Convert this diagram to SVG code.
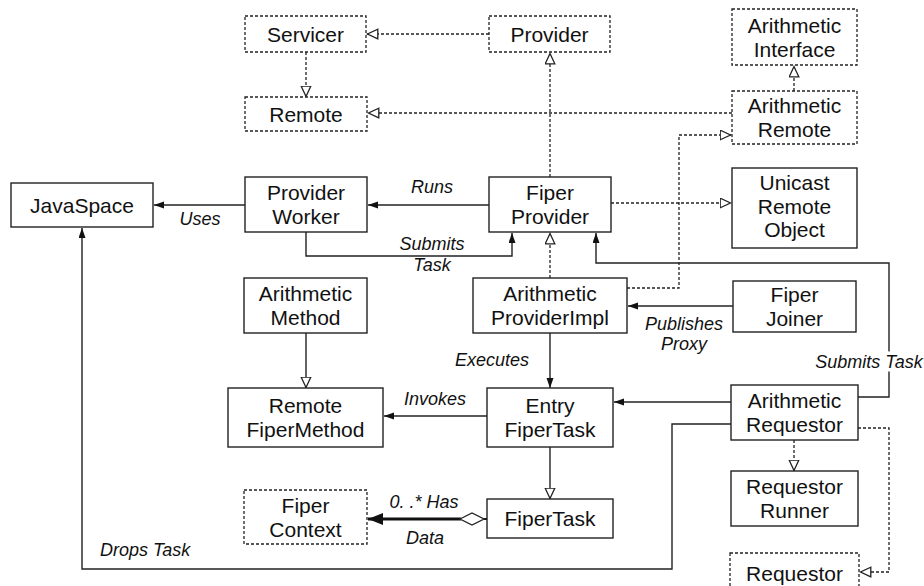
<svg xmlns="http://www.w3.org/2000/svg" width="924" height="586" viewBox="0 0 924 586">
  <style>
    .box { fill: #fff; stroke: #222; stroke-width: 1.4; }
    .iface { fill: #fff; stroke: #222; stroke-width: 1.3; stroke-dasharray: 3 2; }
    .name { font-family: "Liberation Sans", Arial, sans-serif; font-size: 21px; fill: #111; text-anchor: middle; }
    .lbl { font-family: "Liberation Sans", Arial, sans-serif; font-size: 18px; font-style: italic; fill: #111; }
    .knock { stroke: #fff; stroke-width: 7; paint-order: stroke; stroke-linejoin: round; }
    .assoc { fill: none; stroke: #222; stroke-width: 1.4; }
    .real { fill: none; stroke: #222; stroke-width: 1.3; stroke-dasharray: 3 2; }
  </style>
  <defs>
    <marker id="arrow" markerUnits="userSpaceOnUse" markerWidth="11" markerHeight="8" refX="10" refY="3.5" orient="auto">
      <path d="M0,0 L10,3.5 L0,7 z" fill="#111"/>
    </marker>
    <marker id="tri" markerUnits="userSpaceOnUse" markerWidth="13" markerHeight="13" refX="11.5" refY="5.5" orient="auto">
      <path d="M0.7,0.7 L11,5.5 L0.7,10.3 z" fill="#fff" stroke="#222" stroke-width="1.3"/>
    </marker>
    <marker id="boldArrow" markerUnits="userSpaceOnUse" markerWidth="16" markerHeight="13" refX="15" refY="6" orient="auto">
      <path d="M0,0 L15,6 L0,12 z" fill="#111"/>
    </marker>
  </defs>

  <rect width="924" height="586" fill="#fff"/>

  <!-- connectors -->
  <g id="connectors">
    <!-- realization / inheritance (dotted, hollow head) -->
    <path class="real" d="M489,34 H367" marker-end="url(#tri)"/>
    <path class="real" d="M306,52 V97" marker-end="url(#tri)"/>
    <path class="real" d="M550,177 V53" marker-end="url(#tri)"/>
    <path class="real" d="M732,113 H368" marker-end="url(#tri)"/>
    <path class="real" d="M794,91 V66" marker-end="url(#tri)"/>
    <path class="real" d="M611,203 H731" marker-end="url(#tri)"/>
    <path class="real" d="M627,288 H679 V135 H731" marker-end="url(#tri)"/>
    <path class="real" d="M550,278 V233" marker-end="url(#tri)"/>
    <path class="real" d="M794,440 V471" marker-end="url(#tri)"/>
    <path class="real" d="M858,428 H889 V572 H860" marker-end="url(#tri)"/>

    <!-- solid inheritance -->
    <path class="assoc" d="M306,333 V388" marker-end="url(#tri)"/>
    <path class="assoc" d="M550,447 V499" marker-end="url(#tri)"/>

    <!-- associations -->
    <path class="assoc" d="M489,205 H368" marker-end="url(#arrow)"/>
    <path class="assoc" d="M245,205 H154" marker-end="url(#arrow)"/>
    <path class="assoc" d="M306,232 V256 H512 V233" marker-end="url(#arrow)"/>
    <path class="assoc" d="M858,397 H889 V263 H596 V233" marker-end="url(#arrow)"/>
    <path class="assoc" d="M733,306 H628" marker-end="url(#arrow)"/>
    <path class="assoc" d="M550,333 V388" marker-end="url(#arrow)"/>
    <path class="assoc" d="M487,416 H384" marker-end="url(#arrow)"/>
    <path class="assoc" d="M731,402 H614" marker-end="url(#arrow)"/>
    <path class="assoc" d="M731,424 H672 V569 H82 V228" marker-end="url(#arrow)"/>

    <!-- aggregation FiperTask -> Fiper Context -->
    <path d="M461,519 H368" fill="none" stroke="#111" stroke-width="3" marker-end="url(#boldArrow)"/>
    <path d="M484,519 H487" fill="none" stroke="#111" stroke-width="2"/>
    <polygon points="460,519 472,513 484,519 472,525" fill="#fff" stroke="#222" stroke-width="1.3"/>

    <!-- connector labels -->
    <text class="lbl" x="432" y="193" text-anchor="middle">Runs</text>
    <text class="lbl" x="200" y="225" text-anchor="middle">Uses</text>
    <text class="lbl knock" x="432" y="250" text-anchor="middle">Submits</text>
    <text class="lbl" x="432" y="270.5" text-anchor="middle">Task</text>
    <text class="lbl" x="684" y="329.5" text-anchor="middle">Publishes</text>
    <text class="lbl" x="684" y="350" text-anchor="middle">Proxy</text>
    <text class="lbl" x="529" y="366" text-anchor="end">Executes</text>
    <text class="lbl" x="435" y="405" text-anchor="middle">Invokes</text>
    <text class="lbl knock" x="869" y="368" text-anchor="middle">Submits Task</text>
    <text class="lbl" x="424" y="508" text-anchor="middle">0. .* Has</text>
    <text class="lbl" x="425" y="544" text-anchor="middle">Data</text>
    <text class="lbl" x="100" y="556">Drops Task</text>
  </g>

  <!-- interfaces (dotted boxes) -->
  <g id="servicer">
    <rect class="iface" x="245" y="16" width="121" height="36"/>
    <text class="name" x="305.5" y="41.5">Servicer</text>
  </g>
  <g id="provider">
    <rect class="iface" x="489" y="16" width="121" height="36"/>
    <text class="name" x="549.5" y="41.5">Provider</text>
  </g>
  <g id="remote">
    <rect class="iface" x="245" y="97" width="122" height="34"/>
    <text class="name" x="306" y="121.5">Remote</text>
  </g>
  <g id="arithmetic-interface">
    <rect class="iface" x="732" y="9" width="125" height="56"/>
    <text class="name" x="794.5" y="32.5">Arithmetic</text>
    <text class="name" x="794.5" y="56.5">Interface</text>
  </g>
  <g id="arithmetic-remote">
    <rect class="iface" x="732" y="91" width="125" height="53"/>
    <text class="name" x="794.5" y="113">Arithmetic</text>
    <text class="name" x="794.5" y="137">Remote</text>
  </g>
  <g id="fiper-context">
    <rect class="iface" x="244" y="490" width="123" height="54"/>
    <text class="name" x="305.5" y="512.5">Fiper</text>
    <text class="name" x="305.5" y="536.5">Context</text>
  </g>
  <g id="requestor">
    <rect class="iface" x="730" y="553" width="129" height="50"/>
    <text class="name" x="794.5" y="581">Requestor</text>
  </g>

  <!-- classes (solid boxes) -->
  <g id="javaspace">
    <rect class="box" x="11" y="183" width="142" height="44"/>
    <text class="name" x="82" y="212.5">JavaSpace</text>
  </g>
  <g id="provider-worker">
    <rect class="box" x="245" y="177" width="122" height="55"/>
    <text class="name" x="306" y="200">Provider</text>
    <text class="name" x="306" y="224">Worker</text>
  </g>
  <g id="fiper-provider">
    <rect class="box" x="489" y="177" width="122" height="55"/>
    <text class="name" x="550" y="200">Fiper</text>
    <text class="name" x="550" y="224">Provider</text>
  </g>
  <g id="unicast-remote-object">
    <rect class="box" x="732" y="168" width="125" height="80"/>
    <text class="name" x="794.5" y="190">Unicast</text>
    <text class="name" x="794.5" y="213.5">Remote</text>
    <text class="name" x="794.5" y="237">Object</text>
  </g>
  <g id="arithmetic-method">
    <rect class="box" x="244" y="278" width="123" height="55"/>
    <text class="name" x="305.5" y="301">Arithmetic</text>
    <text class="name" x="305.5" y="325">Method</text>
  </g>
  <g id="arithmetic-provider-impl">
    <rect class="box" x="473" y="278" width="154" height="55"/>
    <text class="name" x="550" y="301">Arithmetic</text>
    <text class="name" x="550" y="325">ProviderImpl</text>
  </g>
  <g id="fiper-joiner">
    <rect class="box" x="733" y="281" width="123" height="51"/>
    <text class="name" x="794.5" y="302">Fiper</text>
    <text class="name" x="794.5" y="326">Joiner</text>
  </g>
  <g id="remote-fiper-method">
    <rect class="box" x="228" y="388" width="155" height="59"/>
    <text class="name" x="305.5" y="413">Remote</text>
    <text class="name" x="305.5" y="437">FiperMethod</text>
  </g>
  <g id="entry-fiper-task">
    <rect class="box" x="487" y="388" width="126" height="59"/>
    <text class="name" x="550" y="413">Entry</text>
    <text class="name" x="550" y="437">FiperTask</text>
  </g>
  <g id="arithmetic-requestor">
    <rect class="box" x="731" y="385" width="127" height="55"/>
    <text class="name" x="794.5" y="408">Arithmetic</text>
    <text class="name" x="794.5" y="432">Requestor</text>
  </g>
  <g id="requestor-runner">
    <rect class="box" x="731" y="471" width="127" height="55"/>
    <text class="name" x="794.5" y="494">Requestor</text>
    <text class="name" x="794.5" y="518">Runner</text>
  </g>
  <g id="fiper-task">
    <rect class="box" x="487" y="499" width="126" height="39"/>
    <text class="name" x="550" y="526">FiperTask</text>
  </g>
</svg>
